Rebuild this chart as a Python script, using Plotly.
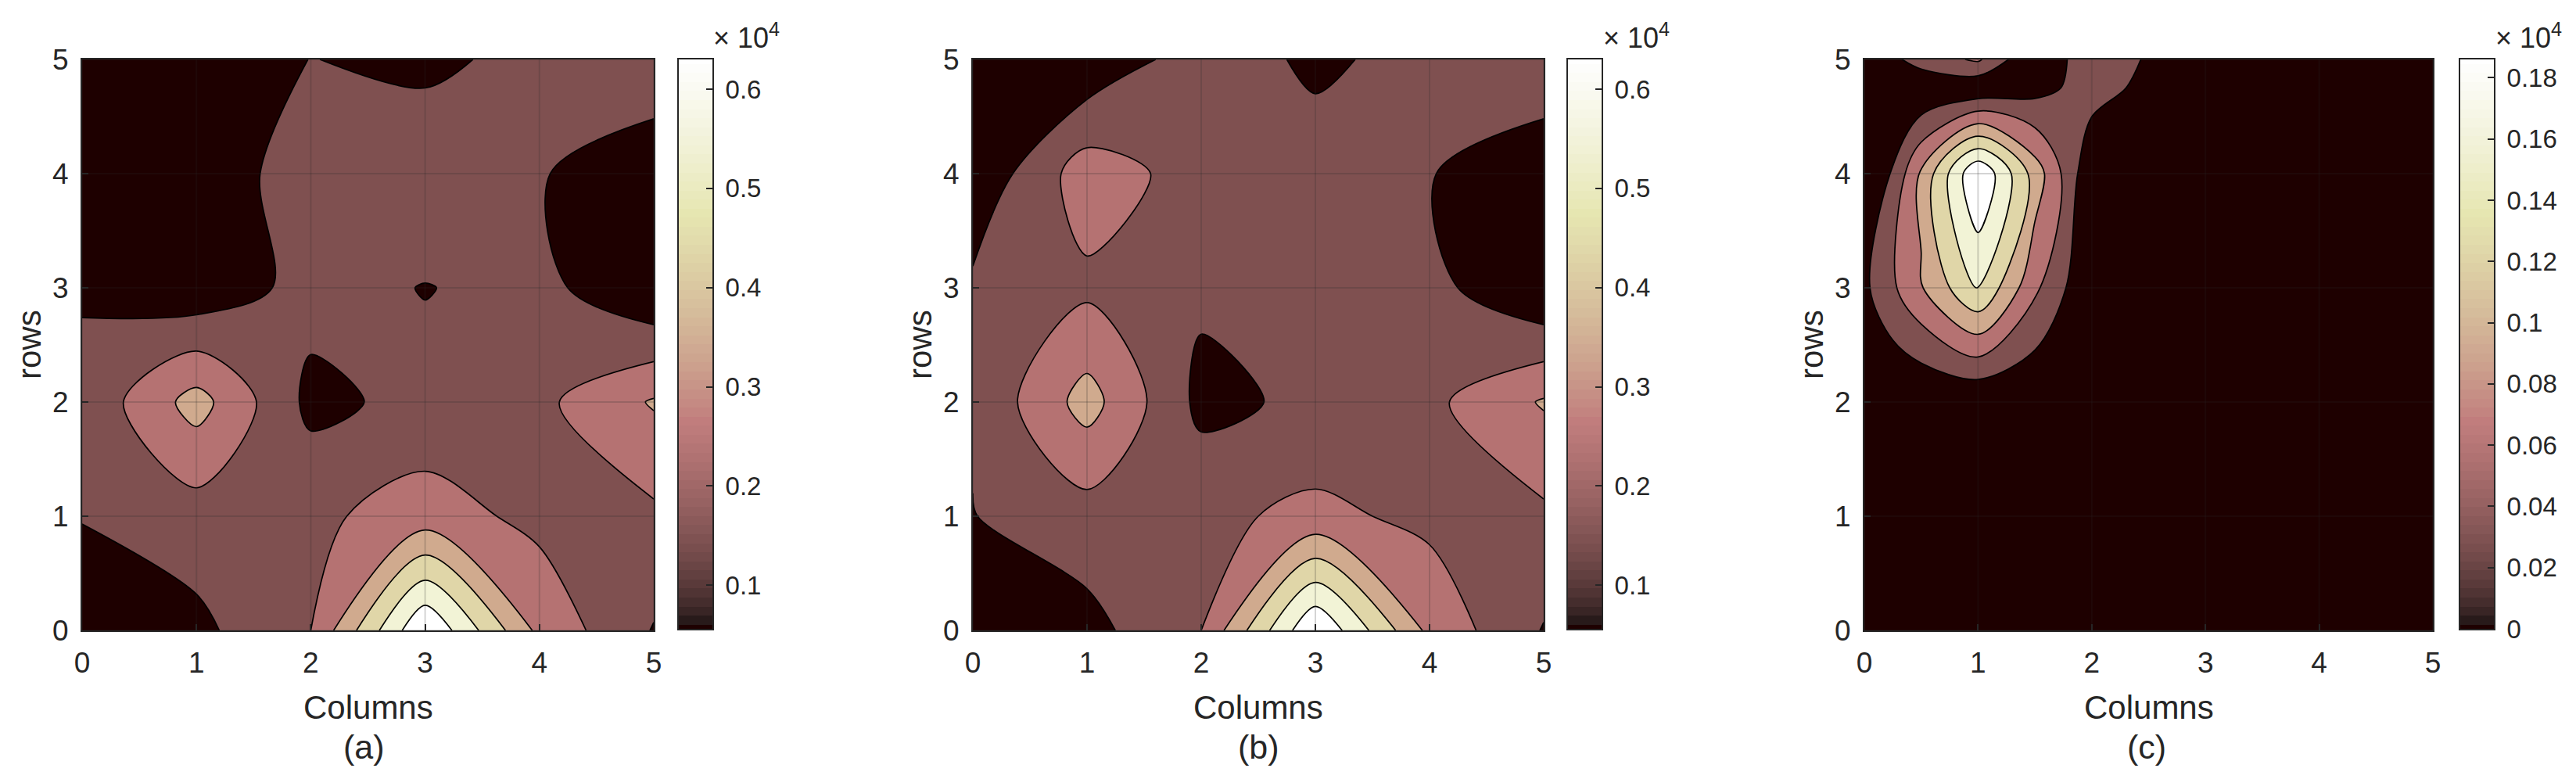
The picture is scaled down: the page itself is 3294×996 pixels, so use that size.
import numpy as np
import plotly.graph_objects as go

# values are in units of 10^4
cols_ab = [0, 1, 2, 3, 4, 5]
rows_ab = [0, 1, 2, 3, 4, 5]
z_a = [
    [.056, .1175, .22, .63, .28, .133],
    [.144, .182, .203, .257, .198, .204],
    [.155, .335, .116, .163, .201, .31],
    [.132, .077, .169, .135, .165, .056],
    [.07, .06, .2, .207, .143, .09],
    [.06, .06, .14, .115, .17, .19],
]
z_b = [
    [.056, .111, .22, .63, .28, .133],
    [.136, .185, .2, .24, .2, .204],
    [.146, .335, .116, .156, .201, .31],
    [.154, .203, .153, .17, .165, .056],
    [.07, .264, .185, .173, .141, .09],
    [.06, .07, .183, .123, .166, .19],
]
cols_c = [0, .25, .5, 1, 1.5, 2, 3, 4, 5]
rows_c = [0, 1, 2, 3, 4, 4.75, 5]
z_c = [
    [0, 0, 0, 0, 0, 0, 0, 0, 0],
    [0, 0, 0, 0, 0, 0, 0, 0, 0],
    [0, 0, 0, 0, 0, 0, 0, 0, 0],
    [.021, .049, .0778, .1345, .0585, 0, 0, 0, 0],
    [0, .0293, .084, .186, .095, .004, 0, 0, 0],
    [0, 0, 0, .004, .017, .038, 0, 0, 0],
    [0, .02, .04, .057, 0, .0467, 0, 0, 0],
]

axis_ticks = [0, 1, 2, 3, 4, 5]
cbar_ticks_ab = [.1, .2, .3, .4, .5, .6]
cbar_labels_ab = ["0.1", "0.2", "0.3", "0.4", "0.5", "0.6"]
cbar_ticks_c = [0, .02, .04, .06, .08, .1, .12, .14, .16, .18]
cbar_labels_c = ["0", "0.02", "0.04", "0.06", "0.08", "0.1", "0.12", "0.14", "0.16", "0.18"]
panel_labels = ["(a)", "(b)", "(c)"]

# band colours of the filled contours, low to high
band_colors = ["#1e0000", "#7f5050", "#b57272", "#d0aa8e", "#e0d6a8", "#f2f3d6", "#ffffff"]

W, H = 3294, 996
BODY_MARGIN = 8  # the page keeps the browser's default body margin
TEXT = "#262626"
FONT = "Liberation Sans"
PLOT_TOP, PLOT_BOTTOM = 76, 806


def pink_colors(n=64):
    # same as matlab pink(n)
    t = np.linspace(0, 1, n)
    r = np.clip(t / .365, 0, 1)
    g = np.clip((t - .365) / .365, 0, 1)
    b = np.clip((t - .73) / .27, 0, 1)
    rgb = np.sqrt((2 * t[:, None] + np.column_stack([r, g, b])) / 3)
    rgb[0] = [.1178, 0, 0]
    return [f"rgb({int(c[0] * 255)},{int(c[1] * 255)},{int(c[2] * 255)})" for c in rgb]


def dx(px):
    return (px - BODY_MARGIN) / W


def dy(px):
    return 1 - (px - BODY_MARGIN) / H


def label(fig, text, x, y, size, **kwargs):
    fig.add_annotation(text=text, xref="paper", yref="paper", x=dx(x), y=dy(y), showarrow=False,
                       xanchor="center", yanchor="middle",
                       font=dict(family=FONT, size=size, color=TEXT), **kwargs)


panels = [
    dict(z=z_a, x=cols_ab, y=rows_ab, left=105, right=836, cb=(868, 911), zmin=.056, zmax=.63,
         ticks=cbar_ticks_ab, labels=cbar_labels_ab, label_x=466),
    dict(z=z_b, x=cols_ab, y=rows_ab, left=1244, right=1974, cb=(2005, 2048), zmin=.056, zmax=.63,
         ticks=cbar_ticks_ab, labels=cbar_labels_ab, label_x=1609),
    dict(z=z_c, x=cols_c, y=rows_c, left=2384, right=3111, cb=(3146, 3189), zmin=0, zmax=.186,
         ticks=cbar_ticks_c, labels=cbar_labels_c, label_x=2745),
]

fig = go.Figure()
layout = {}
cmap = pink_colors()
cscale = [[i / (len(cmap) - 1), c] for i, c in enumerate(cmap)]
band_scale = [[i / (len(band_colors) - 1), c] for i, c in enumerate(band_colors)]

for i, p in enumerate(panels):
    ax = 2 * i + 1
    cb = 2 * i + 2
    step = (p["zmax"] - p["zmin"]) / 7
    fig.add_trace(go.Contour(
        x=p["x"], y=p["y"], z=p["z"],
        xaxis=f"x{ax}", yaxis=f"y{ax}",
        showscale=False,
        autocontour=False,
        contours=dict(start=p["zmin"] + step, end=p["zmin"] + 6 * step, size=step, coloring="fill"),
        colorscale=band_scale,
        line=dict(color="black", width=1.7, smoothing=0.9),
    ))
    # colorbar drawn as its own thin heatmap so it keeps the full 64 step gradient
    levels = np.linspace(p["zmin"], p["zmax"], 64)
    fig.add_trace(go.Heatmap(
        x=[0], y=levels, z=[[v] for v in levels],
        xaxis=f"x{cb}", yaxis=f"y{cb}",
        showscale=False, colorscale=cscale, zmin=p["zmin"], zmax=p["zmax"],
    ))

    box = dict(showline=True, linecolor=TEXT, linewidth=2, mirror=True, showgrid=False,
               zeroline=False, automargin=False)
    tickfont = dict(family=FONT, size=37, color=TEXT)
    layout[f"xaxis{ax}"] = dict(
        domain=[dx(p["left"]), dx(p["right"])], anchor=f"y{ax}", range=[0, 5],
        tickvals=axis_ticks, ticks="inside", ticklen=8, tickwidth=2, tickcolor=TEXT,
        tickfont=tickfont, ticklabelstandoff=8, **box)
    layout[f"yaxis{ax}"] = dict(
        domain=[dy(PLOT_BOTTOM), dy(PLOT_TOP)], anchor=f"x{ax}", range=[0, 5],
        tickvals=axis_ticks, ticks="inside", ticklen=8, tickwidth=2, tickcolor=TEXT,
        tickfont=tickfont, ticklabelstandoff=8, **box)
    layout[f"xaxis{cb}"] = dict(
        domain=[dx(p["cb"][0]), dx(p["cb"][1])], anchor=f"y{cb}", showticklabels=False, ticks="", **box)
    layout[f"yaxis{cb}"] = dict(
        domain=[dy(PLOT_BOTTOM - 2), dy(PLOT_TOP)], anchor=f"x{cb}", side="right",
        range=[p["zmin"], p["zmax"]], tickvals=p["ticks"], ticktext=p["labels"],
        ticks="inside", ticklen=8, tickwidth=2, tickcolor=TEXT,
        tickfont=dict(family=FONT, size=33, color=TEXT), ticklabelstandoff=8, **box)

    # matlab style grid sits on top of the fill
    for t in axis_ticks:
        fig.add_shape(type="line", xref=f"x{ax}", yref=f"y{ax}", x0=t, x1=t, y0=0, y1=5,
                      line=dict(color="rgba(38,38,38,0.2)", width=2), layer="above")
        fig.add_shape(type="line", xref=f"x{ax}", yref=f"y{ax}", x0=0, x1=5, y0=t, y1=t,
                      line=dict(color="rgba(38,38,38,0.2)", width=2), layer="above")

    label(fig, "Columns", (p["left"] + p["right"]) / 2, 904, 42)
    label(fig, "rows", p["left"] - 68, 441, 42, textangle=-90)
    label(fig, "× 10<sup>4</sup>", p["cb"][0] + 87, 46, 36)
    label(fig, panel_labels[i], p["label_x"], 955, 43)

fig.update_layout(
    width=W, height=H, margin=dict(l=0, r=0, t=0, b=0),
    paper_bgcolor="white", plot_bgcolor="white", showlegend=False, **layout)
fig.write_html("out.html")
